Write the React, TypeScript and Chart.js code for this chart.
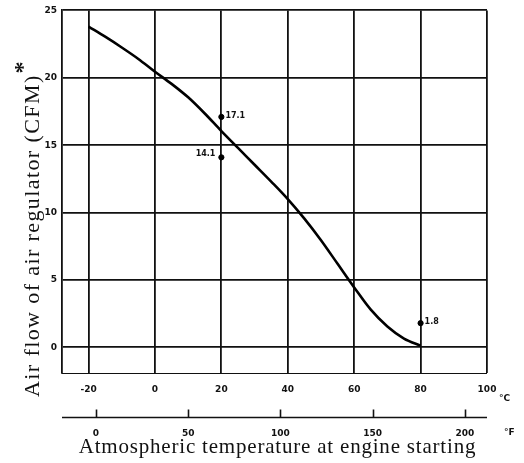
import React, { useEffect, useRef } from "react";
import { Chart, registerables } from "chart.js";

Chart.register(...registerables);

// ---- data ----
const tempC = [-20, -15, -10, -5, 0, 5, 10, 15, 20, 25, 30, 35, 40, 45, 50, 55, 60, 65, 70, 75, 80];
const airflow = [23.8, 23.05, 22.25, 21.4, 20.45, 19.55, 18.55, 17.35, 16.05, 14.8, 13.55, 12.3, 11.0, 9.55, 7.95, 6.2, 4.45, 2.8, 1.55, 0.65, 0.12];

const markTemps = [20, 20, 80];
const markValues = [17.1, 14.1, 1.8];
const markLabels = ["17.1", "14.1", "1.8"];

const cTicks = [-20, 0, 20, 40, 60, 80, 100];
const fTicks = [0, 50, 100, 150, 200];
const yTicks = [0, 5, 10, 15, 20, 25];

const cMin = -28;
const cMax = 100;
const yMin = -1.9;
const yMax = 25;

const xTitle = "Atmospheric temperature at engine starting";
const yTitle = "Air flow of air regulator (CFM)";

const INK = "#111111";
const TICK_FONT = { family: "'DejaVu Sans', sans-serif", size: 9, weight: "bold" as const };

const overlay = {
  id: "overlay",
  afterDraw(chart: any) {
    const { ctx, chartArea } = chart;
    const x = chart.scales.x;
    const y = chart.scales.y;
    const x2 = chart.scales.x2;
    ctx.save();
    ctx.strokeStyle = INK;
    ctx.fillStyle = INK;

    // faint bottom frame
    ctx.lineWidth = 1;
    ctx.beginPath();
    ctx.moveTo(chartArea.left, Math.round(chartArea.bottom) + 0.5);
    ctx.lineTo(chartArea.right, Math.round(chartArea.bottom) + 0.5);
    ctx.stroke();

    // Fahrenheit axis line with upward ticks
    const fy = Math.round(x2.top) + 0.5;
    ctx.lineWidth = 1.6;
    ctx.beginPath();
    ctx.moveTo(x2.left, fy);
    ctx.lineTo(x2.right, fy);
    ctx.stroke();
    fTicks.forEach((v) => {
      const px = Math.round(x2.getPixelForValue(v)) + 0.5;
      ctx.beginPath();
      ctx.moveTo(px, fy);
      ctx.lineTo(px, fy - 8);
      ctx.stroke();
    });

    // unit labels
    ctx.font = "bold 9px 'DejaVu Sans', sans-serif";
    ctx.textAlign = "left";
    ctx.textBaseline = "middle";
    ctx.fillText("°C", x.right + 12, x.top + 26);
    ctx.fillText("°F", x2.right + 17, x2.top + 16);

    // point labels
    ctx.font = "bold 8px 'DejaVu Sans', sans-serif";
    markValues.forEach((v, i) => {
      const px = x.getPixelForValue(markTemps[i]);
      const py = y.getPixelForValue(v);
      if (i === 1) {
        ctx.textAlign = "right";
        ctx.fillText(markLabels[i], px - 6, py - 3);
      } else {
        ctx.textAlign = "left";
        ctx.fillText(markLabels[i], px + 4, py - 1);
      }
    });

    // x title
    (ctx as any).letterSpacing = "0.8px";
    ctx.font = "21px 'Liberation Serif', serif";
    ctx.textAlign = "center";
    ctx.textBaseline = "alphabetic";
    ctx.fillText(xTitle, (chartArea.left + chartArea.right) / 2 + 3, x2.top + 36);

    // y title (rotated)
    ctx.save();
    ctx.translate(y.left + 39, chartArea.bottom + 24);
    ctx.rotate(-Math.PI / 2);
    (ctx as any).letterSpacing = "1.4px";
    ctx.font = "22px 'Liberation Serif', serif";
    ctx.textAlign = "left";
    ctx.textBaseline = "alphabetic";
    ctx.fillText(yTitle, 0, 0);
    const w = ctx.measureText(yTitle).width;
    (ctx as any).letterSpacing = "0px";
    ctx.font = "bold 24px 'Liberation Serif', serif";
    ctx.fillText("*", w + 1, -9);
    ctx.restore();

    ctx.restore();
  },
};

export default function App() {
  const ref = useRef<HTMLCanvasElement | null>(null);

  useEffect(() => {
    if (!ref.current) return;
    const chart = new Chart(ref.current, {
      type: "line",
      data: {
        datasets: [
          {
            label: "Air flow",
            data: tempC.map((t, i) => ({ x: t, y: airflow[i] })),
            borderColor: "#000",
            borderWidth: 2.6,
            pointRadius: 0,
            cubicInterpolationMode: "monotone",
            fill: false,
          },
          {
            label: "Measured",
            type: "scatter",
            data: markTemps.map((t, i) => ({ x: t, y: markValues[i] })),
            backgroundColor: "#000",
            borderColor: "#000",
            pointRadius: 2.6,
            showLine: false,
          } as any,
        ],
      },
      options: {
        responsive: false,
        animation: false,
        devicePixelRatio: 1,
        layout: { padding: { left: 0, top: 10, right: 37, bottom: 0 } },
        plugins: { legend: { display: false }, tooltip: { enabled: false }, title: { display: false } },
        scales: {
          x: {
            type: "linear",
            position: "bottom",
            min: cMin,
            max: cMax,
            afterBuildTicks: (s: any) => {
              s.ticks = cTicks.map((v) => ({ value: v }));
            },
            afterFit: (s: any) => {
              s.height = 44;
            },
            grid: { color: INK, lineWidth: 1.8, drawTicks: false },
            border: { display: false },
            ticks: { padding: 11, color: INK, font: TICK_FONT, maxRotation: 0 },
          },
          x2: {
            type: "linear",
            position: "bottom",
            min: cMin * 1.8 + 32,
            max: cMax * 1.8 + 32,
            afterBuildTicks: (s: any) => {
              s.ticks = fTicks.map((v) => ({ value: v }));
            },
            afterFit: (s: any) => {
              s.height = 46;
            },
            grid: { display: false, drawTicks: false },
            border: { display: false },
            ticks: { padding: 11, color: INK, font: TICK_FONT, maxRotation: 0 },
          },
          y: {
            type: "linear",
            min: yMin,
            max: yMax,
            afterBuildTicks: (s: any) => {
              s.ticks = yTicks.map((v) => ({ value: v }));
            },
            afterFit: (s: any) => {
              s.width = 62;
            },
            grid: { color: INK, lineWidth: 1.8, drawTicks: false },
            border: { display: true, color: INK, width: 1.8 },
            ticks: { padding: 5, color: INK, font: TICK_FONT },
          },
        },
      } as any,
      plugins: [overlay],
    });
    return () => chart.destroy();
  }, []);

  return (
    <div style={{ position: "absolute", left: 0, top: 0, width: 524, height: 463, background: "#fff" }}>
      <canvas ref={ref} width={524} height={463} />
    </div>
  );
}
